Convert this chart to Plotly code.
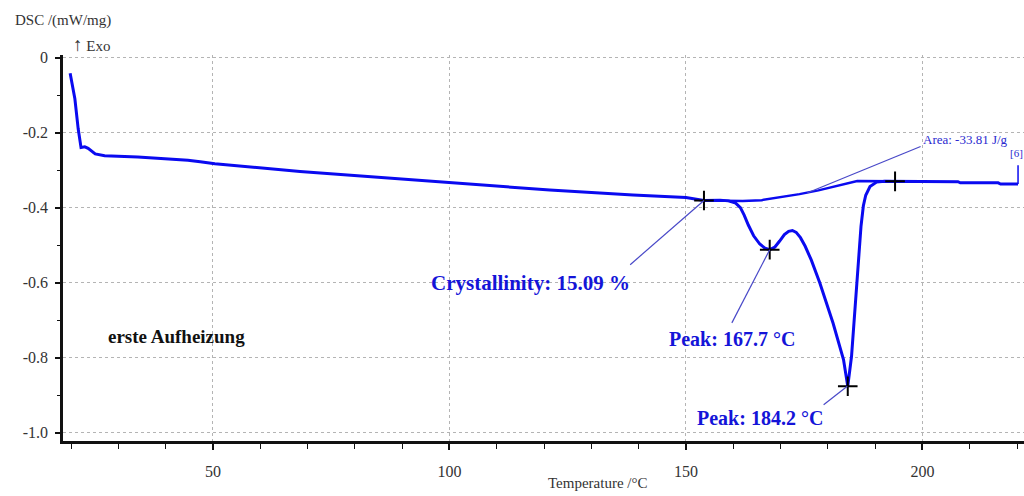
import plotly.graph_objects as go

# ---- data ----
temp = [19.8, 20.8, 21.5, 22.1, 22.9, 23.6, 25.1, 27.1, 34.1, 39.9, 44.7, 47.3, 50.4,
        68.4, 100.1, 121.2, 138.8, 150.0, 153.8, 157.2, 159.0, 160.5, 161.5, 162.3,
        163.2, 164.3, 165.6, 166.7, 167.7, 168.8, 169.8, 170.8, 171.7, 172.5, 173.3,
        174.2, 175.2, 176.5, 178.3, 181.1, 183.3, 184.2, 185.0, 185.7, 186.4, 187.0,
        187.5, 188.0, 188.9, 190.3, 192.0, 194.2, 207.5, 208.0, 216.0, 216.5, 220.2]
dsc = [-0.042, -0.110, -0.190, -0.240, -0.238, -0.242, -0.257, -0.262, -0.265, -0.269,
       -0.274, -0.278, -0.283, -0.304, -0.333, -0.353, -0.366, -0.373, -0.381, -0.380,
       -0.382, -0.388, -0.400, -0.420, -0.447, -0.475, -0.497, -0.508, -0.512, -0.505,
       -0.489, -0.472, -0.463, -0.461, -0.466, -0.480, -0.503, -0.540, -0.601, -0.708,
       -0.805, -0.876, -0.796, -0.672, -0.565, -0.450, -0.395, -0.367, -0.344, -0.332,
       -0.330, -0.330, -0.331, -0.334, -0.334, -0.337, -0.337]

base_temp = [153.8, 162.0, 166.0, 170.0, 174.0, 178.0, 182.0, 186.2, 194.2]
base_dsc = [-0.381, -0.382, -0.380, -0.373, -0.364, -0.354, -0.342, -0.329, -0.330]

mark_temp = [153.8, 167.7, 184.2, 194.2]
mark_dsc = [-0.381, -0.512, -0.876, -0.330]

x_ticks = [50, 100, 150, 200]
y_ticks = [0, -0.2, -0.4, -0.6, -0.8, -1.0]
y_tick_text = ["0", "-0.2", "-0.4", "-0.6", "-0.8", "-1.0"]

BLUE = "#0a0af0"
LEAD = "#4848c8"
SERIF = "Liberation Serif"

fig = go.Figure()
fig.add_trace(go.Scatter(x=temp, y=dsc, mode="lines",
                         line=dict(color=BLUE, width=3), hoverinfo="skip"))
fig.add_trace(go.Scatter(x=base_temp, y=base_dsc, mode="lines",
                         line=dict(color=BLUE, width=2.5), hoverinfo="skip"))
fig.add_trace(go.Scatter(x=mark_temp, y=mark_dsc, mode="markers",
                         marker=dict(symbol="cross-thin", size=14,
                                     line=dict(color="black", width=2)),
                         hoverinfo="skip"))

# leader lines
leaders = [
    (138.2, -0.552, 153.8, -0.381),
    (159.7, -0.707, 167.7, -0.512),
    (179.1, -0.925, 184.1, -0.876),
    (199.6, -0.237, 175.6, -0.361),
]
for x0, y0, x1, y1 in leaders:
    fig.add_shape(type="line", x0=x0, y0=y0, x1=x1, y1=y1,
                  line=dict(color=LEAD, width=1.2), layer="above")
fig.add_shape(type="line", x0=220.2, y0=-0.337, x1=220.2, y1=-0.287,
              line=dict(color=BLUE, width=1.5), layer="above")

annos = [
    dict(x=117.1, y=-0.601, text="<b>Crystallinity: 15.09 %</b>", size=21, color="#1414d8"),
    dict(x=159.7, y=-0.750, text="<b>Peak: 167.7 °C</b>", size=20, color="#1414d8"),
    dict(x=165.7, y=-0.960, text="<b>Peak: 184.2 °C</b>", size=20, color="#1414d8"),
    dict(x=42.3, y=-0.743, text="<b>erste Aufheizung</b>", size=19, color="#111111"),
]
for a in annos:
    fig.add_annotation(x=a["x"], y=a["y"], text=a["text"], showarrow=False,
                       xanchor="center", yanchor="middle",
                       font=dict(family=SERIF, size=a["size"], color=a["color"]))
fig.add_annotation(x=199.6, y=-0.2195, text="Area: -33.81 J/g", showarrow=False,
                   xanchor="left", yanchor="middle",
                   font=dict(family=SERIF, size=13, color="#2a2ad0"))
fig.add_annotation(xref="paper", x=1.0, y=-0.254, text="[6]", showarrow=False,
                   xanchor="right", yanchor="middle", borderpad=0,
                   font=dict(family=SERIF, size=11, color="#2a2ad0"))

# axis titles
fig.add_annotation(xref="paper", yref="paper", x=-0.0523, y=1.0889,
                   text="DSC /(mW/mg)", showarrow=False, xanchor="left", yanchor="middle",
                   font=dict(family=SERIF, size=15, color="#333333"))
fig.add_annotation(xref="paper", yref="paper", x=0.0083, y=1.0277,
                   text="<span style='font-size:19px'>↑</span> Exo", showarrow=False,
                   xanchor="left", yanchor="middle",
                   font=dict(family=SERIF, size=15, color="#333333"))
fig.add_annotation(xref="paper", yref="paper", x=0.5567, y=-0.1088,
                   text="Temperature /°C", showarrow=False, xanchor="center", yanchor="middle",
                   font=dict(family=SERIF, size=15, color="#333333"))

fig.update_layout(
    width=1024, height=496,
    margin=dict(l=63, r=0, t=55, b=55),
    paper_bgcolor="white", plot_bgcolor="white",
    showlegend=False,
    font=dict(family=SERIF, size=16, color="#333333"),
)
fig.update_xaxes(
    range=[18.29, 221.46], tickvals=x_ticks, ticktext=[str(v) for v in x_ticks],
    showline=True, linecolor="#111111", linewidth=2.5,
    ticks="outside", ticklen=6, tickwidth=1.5, tickcolor="#111111",
    showgrid=True, gridcolor="#b4b4b4", griddash="dot", gridwidth=1,
    zeroline=False, ticklabelstandoff=8,
    minor=dict(dtick=10, tick0=0, ticks="outside", ticklen=5, tickwidth=1.2,
               tickcolor="#111111", showgrid=False),
    tickfont=dict(family=SERIF, size=16, color="#333333"),
)
fig.update_yaxes(
    range=[-1.0218, 0.0067], tickvals=y_ticks, ticktext=y_tick_text,
    showline=True, linecolor="#111111", linewidth=2.5,
    ticks="outside", ticklen=5, tickwidth=1.5, tickcolor="#111111",
    showgrid=True, gridcolor="#b4b4b4", griddash="dot", gridwidth=1,
    zeroline=False, ticklabelstandoff=4,
    minor=dict(dtick=0.1, tick0=0, ticks="outside", ticklen=3, tickwidth=1.2,
               tickcolor="#111111", showgrid=False),
    tickfont=dict(family=SERIF, size=16, color="#333333"),
)

fig.write_html("out.html")
